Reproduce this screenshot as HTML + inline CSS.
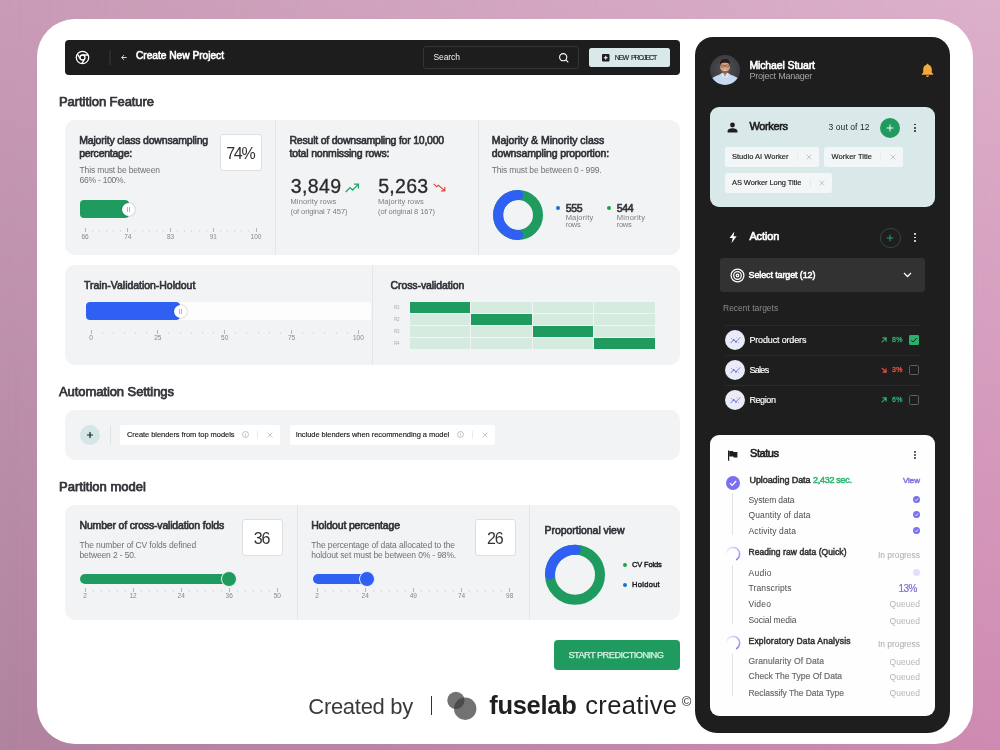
<!DOCTYPE html>
<html lang="en"><head><meta charset="utf-8"><title>Create New Project</title>
<style>
html,body{margin:0;padding:0;}
body{width:1000px;height:750px;overflow:hidden;position:relative;font-family:"Liberation Sans", sans-serif;background:#c796b4;}
.t{position:absolute;white-space:pre;}
svg{position:absolute;overflow:visible;}
</style></head><body>
<div aria-label="Background">
<div style="position:absolute;left:0;top:0;width:1000px;height:750px;background:linear-gradient(to bottom,#c99bb6,#b0839f)"></div>
<div style="position:absolute;left:0;top:0;width:1000px;height:750px;background:linear-gradient(to bottom,#dcafca,#cf8ab1);-webkit-mask-image:linear-gradient(to right,transparent,#000);mask-image:linear-gradient(to right,transparent,#000)"></div>
<div style="position:absolute;left:37px;top:19px;width:936px;height:725px;background:#fff;border-radius:38px;"></div>
</div>
<header aria-label="Top bar">
<div style="position:absolute;left:65px;top:40px;width:615px;height:34.5px;background:#1d1d1d;border-radius:4px;"></div>
<svg style="left:75px;top:49.5px" width="15" height="15" viewBox="0 0 15 15"><g fill="none" stroke="#fff" stroke-width="1.3"><circle cx="7.5" cy="7.5" r="6.2"/><circle cx="7.5" cy="7.5" r="2.5"/><path d="M7.5 5 H13.3 M5.3 8.8 L2.3 3.9 M9.7 8.8 L6.8 13.7"/></g></svg>
<div style="position:absolute;left:109px;top:50px;width:2px;height:15px;background:#2b2b2b;border-radius:0px;"></div>
<svg style="left:120.6px;top:54px" width="6" height="7" viewBox="0 0 6 7"><path d="M5.7 3.5 H0.9 M3 1.1 L0.7 3.5 L3 5.9" fill="none" stroke="#eee" stroke-width="0.9"/></svg>
<div style="position:absolute;left:423px;top:46px;width:154px;height:20.5px;border:1px solid #343434;border-radius:3px;box-sizing:content-box"></div>
<svg style="left:558px;top:51.5px" width="12" height="12" viewBox="0 0 12 12"><g fill="none" stroke="#fff" stroke-width="1.1"><circle cx="5.2" cy="5.2" r="3.6"/><path d="M7.9 7.9 L10.3 10.3"/></g></svg>
<div style="position:absolute;left:589px;top:47.7px;width:81px;height:19.5px;background:#d9e9ea;border-radius:2.5px;"></div>
<svg style="left:601.5px;top:54px" width="7.5" height="7.5" viewBox="0 0 7.5 7.5"><rect x="0" y="0" width="7.5" height="7.5" rx="1" fill="#1e1e1e"/><path d="M3.75 1.8 V5.7 M1.8 3.75 H5.7" stroke="#fff" stroke-width="1"/></svg>
<span class="t" style="left:136.00px;top:48.34px;font-size:10.2px;line-height:15px;color:#fff;letter-spacing:-0.019px;-webkit-text-stroke:0.59px #fff;">Create New Project</span>
<span class="t" style="left:433.50px;top:50.60px;font-size:8.5px;line-height:13px;color:#f0f0f0;letter-spacing:-0.087px;">Search</span>
<span class="t" style="left:614.80px;top:52.45px;font-size:7px;line-height:11px;color:#1e1e1e;letter-spacing:-1.035px;word-spacing:2px;-webkit-text-stroke:0.15px #1e1e1e;">NEW PROJECT</span>
</header>
<div aria-label="Section headings">
<span class="t" style="left:59.00px;top:92.14px;font-size:13px;line-height:19px;color:#33353a;letter-spacing:-0.069px;-webkit-text-stroke:0.75px #33353a;">Partition Feature</span>
<span class="t" style="left:59.00px;top:381.65px;font-size:13px;line-height:19px;color:#33353a;letter-spacing:-0.076px;-webkit-text-stroke:0.75px #33353a;">Automation Settings</span>
<span class="t" style="left:59.00px;top:477.15px;font-size:13px;line-height:19px;color:#33353a;letter-spacing:0.020px;-webkit-text-stroke:0.75px #33353a;">Partition model</span>
</div>
<section aria-label="Partition Feature">
<div style="position:absolute;left:65px;top:120px;width:615px;height:134.5px;background:#f1f3f5;border-radius:10px;"></div>
<div style="position:absolute;left:275px;top:120px;width:1px;height:134.5px;background:#e4e6e9;border-radius:0px;"></div>
<div style="position:absolute;left:477.5px;top:120px;width:1px;height:134.5px;background:#e4e6e9;border-radius:0px;"></div>
<div style="position:absolute;left:220.3px;top:134.2px;width:39.5px;height:34.5px;background:#fff;border:1px solid #dcdfe2;border-radius:3px"></div>
<div style="position:absolute;left:80px;top:200px;width:49px;height:17.5px;background:#1f9b5f;border-radius:4px;"></div>
<div style="position:absolute;left:121.5px;top:202.5px;width:13px;height:13px;background:#fff;border-radius:50%;box-shadow:0 0 2px rgba(0,0,0,.35)"></div>
<div style="position:absolute;left:126.6px;top:206.5px;width:0.8px;height:5px;background:#b5b5b5;border-radius:0px;"></div>
<div style="position:absolute;left:128.6px;top:206.5px;width:0.8px;height:5px;background:#b5b5b5;border-radius:0px;"></div>
<div style="position:absolute;left:84.5px;top:228px;width:1px;height:4px;background:#b2b5b9;border-radius:0px;"></div>
<div style="position:absolute;left:91.62px;top:229.5px;width:1px;height:2.5px;background:#dadce0;border-radius:0px;"></div>
<div style="position:absolute;left:98.75px;top:229.5px;width:1px;height:2.5px;background:#dadce0;border-radius:0px;"></div>
<div style="position:absolute;left:105.88px;top:229.5px;width:1px;height:2.5px;background:#dadce0;border-radius:0px;"></div>
<div style="position:absolute;left:113.0px;top:229.5px;width:1px;height:2.5px;background:#dadce0;border-radius:0px;"></div>
<div style="position:absolute;left:120.12px;top:229.5px;width:1px;height:2.5px;background:#dadce0;border-radius:0px;"></div>
<div style="position:absolute;left:127.25px;top:228px;width:1px;height:4px;background:#b2b5b9;border-radius:0px;"></div>
<div style="position:absolute;left:134.38px;top:229.5px;width:1px;height:2.5px;background:#dadce0;border-radius:0px;"></div>
<div style="position:absolute;left:141.5px;top:229.5px;width:1px;height:2.5px;background:#dadce0;border-radius:0px;"></div>
<div style="position:absolute;left:148.62px;top:229.5px;width:1px;height:2.5px;background:#dadce0;border-radius:0px;"></div>
<div style="position:absolute;left:155.75px;top:229.5px;width:1px;height:2.5px;background:#dadce0;border-radius:0px;"></div>
<div style="position:absolute;left:162.88px;top:229.5px;width:1px;height:2.5px;background:#dadce0;border-radius:0px;"></div>
<div style="position:absolute;left:170.0px;top:228px;width:1px;height:4px;background:#b2b5b9;border-radius:0px;"></div>
<div style="position:absolute;left:177.12px;top:229.5px;width:1px;height:2.5px;background:#dadce0;border-radius:0px;"></div>
<div style="position:absolute;left:184.25px;top:229.5px;width:1px;height:2.5px;background:#dadce0;border-radius:0px;"></div>
<div style="position:absolute;left:191.38px;top:229.5px;width:1px;height:2.5px;background:#dadce0;border-radius:0px;"></div>
<div style="position:absolute;left:198.5px;top:229.5px;width:1px;height:2.5px;background:#dadce0;border-radius:0px;"></div>
<div style="position:absolute;left:205.62px;top:229.5px;width:1px;height:2.5px;background:#dadce0;border-radius:0px;"></div>
<div style="position:absolute;left:212.75px;top:228px;width:1px;height:4px;background:#b2b5b9;border-radius:0px;"></div>
<div style="position:absolute;left:219.88px;top:229.5px;width:1px;height:2.5px;background:#dadce0;border-radius:0px;"></div>
<div style="position:absolute;left:227.0px;top:229.5px;width:1px;height:2.5px;background:#dadce0;border-radius:0px;"></div>
<div style="position:absolute;left:234.12px;top:229.5px;width:1px;height:2.5px;background:#dadce0;border-radius:0px;"></div>
<div style="position:absolute;left:241.25px;top:229.5px;width:1px;height:2.5px;background:#dadce0;border-radius:0px;"></div>
<div style="position:absolute;left:248.38px;top:229.5px;width:1px;height:2.5px;background:#dadce0;border-radius:0px;"></div>
<div style="position:absolute;left:255.5px;top:228px;width:1px;height:4px;background:#b2b5b9;border-radius:0px;"></div>
<svg style="left:344.5px;top:182.8px" width="15" height="10" viewBox="0 0 15 10"><path d="M0.8 9 L5 4.6 L7.6 7 L13 1.6 M9 1.2 H13.4 V5.6" fill="none" stroke="#27a567" stroke-width="1.3"/></svg>
<svg style="left:432.8px;top:183.3px" width="13" height="9" viewBox="0 0 13 9"><path d="M0.8 1 L3.6 3.8 L5.4 2.2 L11.4 7.4 M8 7.8 H11.8 V4" fill="none" stroke="#e5463d" stroke-width="1.2"/></svg>
<svg style="left:0;top:0" width="1000" height="750" viewBox="0 0 1000 750"><circle cx="518" cy="215" r="20" fill="none" stroke="#1f9b5f" stroke-width="10"/><path d="M518.17 235.00 A20 20 0 1 1 518.35 195.00" fill="none" stroke="#2f5ff3" stroke-width="10" stroke-linecap="round"/></svg>
<div style="position:absolute;left:556px;top:205.5px;width:4px;height:4px;background:#1a6fd6;border-radius:2px;"></div>
<div style="position:absolute;left:607.2px;top:205.5px;width:4px;height:4px;background:#1fa34a;border-radius:2px;"></div>
<span class="t" style="left:79.20px;top:131.93px;font-size:10.5px;line-height:16px;color:#2f3137;letter-spacing:-0.178px;-webkit-text-stroke:0.61px #2f3137;">Majority class downsampling</span>
<span class="t" style="left:79.20px;top:144.93px;font-size:10.5px;line-height:16px;color:#2f3137;letter-spacing:-0.247px;-webkit-text-stroke:0.61px #2f3137;">percentage:</span>
<span class="t" style="left:79.50px;top:164.00px;font-size:8.5px;line-height:13px;color:#6f7175;letter-spacing:-0.140px;">This must be between</span>
<span class="t" style="left:79.50px;top:174.00px;font-size:8.5px;line-height:13px;color:#6f7175;letter-spacing:-0.237px;">66% - 100%.</span>
<span class="t" style="left:226.18px;top:141.74px;font-size:16px;line-height:23px;color:#333;letter-spacing:-1.200px;">74%</span>
<span class="t" style="left:81.38px;top:231.67px;font-size:6.5px;line-height:10px;color:#85888d;">66</span>
<span class="t" style="left:124.13px;top:231.67px;font-size:6.5px;line-height:10px;color:#85888d;">74</span>
<span class="t" style="left:166.88px;top:231.67px;font-size:6.5px;line-height:10px;color:#85888d;">83</span>
<span class="t" style="left:209.63px;top:231.67px;font-size:6.5px;line-height:10px;color:#85888d;">91</span>
<span class="t" style="left:250.57px;top:231.67px;font-size:6.5px;line-height:10px;color:#85888d;">100</span>
<span class="t" style="left:289.50px;top:131.93px;font-size:10.5px;line-height:16px;color:#2f3137;letter-spacing:-0.218px;-webkit-text-stroke:0.61px #2f3137;">Result of downsampling for 10,000</span>
<span class="t" style="left:289.50px;top:144.93px;font-size:10.5px;line-height:16px;color:#2f3137;letter-spacing:-0.185px;-webkit-text-stroke:0.61px #2f3137;">total nonmissing rows:</span>
<span class="t" style="left:290.70px;top:173.22px;font-size:19.5px;line-height:27px;color:#2b2b2b;letter-spacing:0.422px;-webkit-text-stroke:0.3px #2b2b2b;">3,849</span>
<span class="t" style="left:378.20px;top:173.22px;font-size:19.5px;line-height:27px;color:#2b2b2b;letter-spacing:0.297px;-webkit-text-stroke:0.3px #2b2b2b;">5,263</span>
<span class="t" style="left:290.50px;top:196.24px;font-size:7.5px;line-height:12px;color:#7c7e82;letter-spacing:0.126px;">Minority rows</span>
<span class="t" style="left:290.50px;top:206.24px;font-size:7.5px;line-height:12px;color:#7c7e82;letter-spacing:-0.076px;">(of original 7 457)</span>
<span class="t" style="left:378.00px;top:196.24px;font-size:7.5px;line-height:12px;color:#7c7e82;letter-spacing:0.126px;">Majority rows</span>
<span class="t" style="left:378.00px;top:206.24px;font-size:7.5px;line-height:12px;color:#7c7e82;letter-spacing:-0.076px;">(of original 8 167)</span>
<span class="t" style="left:491.70px;top:131.93px;font-size:10.5px;line-height:16px;color:#2f3137;letter-spacing:-0.029px;-webkit-text-stroke:0.61px #2f3137;">Majority &amp; Minority class</span>
<span class="t" style="left:491.70px;top:144.93px;font-size:10.5px;line-height:16px;color:#2f3137;letter-spacing:-0.120px;-webkit-text-stroke:0.61px #2f3137;">downsampling proportion:</span>
<span class="t" style="left:491.70px;top:164.00px;font-size:8.5px;line-height:13px;color:#6f7175;letter-spacing:-0.155px;">This must be between 0 - 999.</span>
<span class="t" style="left:565.70px;top:200.43px;font-size:10.5px;line-height:16px;color:#33353a;letter-spacing:-0.366px;-webkit-text-stroke:0.61px #33353a;">555</span>
<span class="t" style="left:565.70px;top:211.54px;font-size:7.5px;line-height:12px;color:#7c7e82;letter-spacing:0.176px;">Majority</span>
<span class="t" style="left:565.70px;top:219.04px;font-size:7.5px;line-height:12px;color:#7c7e82;letter-spacing:-0.281px;">rows</span>
<span class="t" style="left:616.70px;top:200.43px;font-size:10.5px;line-height:16px;color:#33353a;letter-spacing:-0.266px;-webkit-text-stroke:0.61px #33353a;">544</span>
<span class="t" style="left:616.70px;top:211.54px;font-size:7.5px;line-height:12px;color:#7c7e82;letter-spacing:0.291px;">Minority</span>
<span class="t" style="left:616.70px;top:219.04px;font-size:7.5px;line-height:12px;color:#7c7e82;letter-spacing:-0.281px;">rows</span>
</section>
<section aria-label="Train-Validation-Holdout and Cross-validation">
<div style="position:absolute;left:65px;top:265px;width:615px;height:99.5px;background:#f1f3f5;border-radius:10px;"></div>
<div style="position:absolute;left:372px;top:265px;width:1px;height:99.5px;background:#e4e6e9;border-radius:0px;"></div>
<div style="position:absolute;left:85.7px;top:302px;width:285px;height:17.7px;background:#fdfdfd;border-radius:3px;"></div>
<div style="position:absolute;left:85.7px;top:302px;width:94px;height:17.7px;background:#2f5ff3;border-radius:4px;"></div>
<div style="position:absolute;left:173.5px;top:304.5px;width:13px;height:13px;background:#fff;border-radius:50%;box-shadow:0 0 2px rgba(0,0,0,.35)"></div>
<div style="position:absolute;left:178.6px;top:308.5px;width:0.8px;height:5px;background:#b5b5b5;border-radius:0px;"></div>
<div style="position:absolute;left:180.6px;top:308.5px;width:0.8px;height:5px;background:#b5b5b5;border-radius:0px;"></div>
<div style="position:absolute;left:90.5px;top:330px;width:1px;height:4px;background:#b2b5b9;border-radius:0px;"></div>
<div style="position:absolute;left:101.64px;top:331.5px;width:1px;height:2.5px;background:#dadce0;border-radius:0px;"></div>
<div style="position:absolute;left:112.78px;top:331.5px;width:1px;height:2.5px;background:#dadce0;border-radius:0px;"></div>
<div style="position:absolute;left:123.92px;top:331.5px;width:1px;height:2.5px;background:#dadce0;border-radius:0px;"></div>
<div style="position:absolute;left:135.07px;top:331.5px;width:1px;height:2.5px;background:#dadce0;border-radius:0px;"></div>
<div style="position:absolute;left:146.21px;top:331.5px;width:1px;height:2.5px;background:#dadce0;border-radius:0px;"></div>
<div style="position:absolute;left:157.35px;top:330px;width:1px;height:4px;background:#b2b5b9;border-radius:0px;"></div>
<div style="position:absolute;left:168.49px;top:331.5px;width:1px;height:2.5px;background:#dadce0;border-radius:0px;"></div>
<div style="position:absolute;left:179.63px;top:331.5px;width:1px;height:2.5px;background:#dadce0;border-radius:0px;"></div>
<div style="position:absolute;left:190.77px;top:331.5px;width:1px;height:2.5px;background:#dadce0;border-radius:0px;"></div>
<div style="position:absolute;left:201.92px;top:331.5px;width:1px;height:2.5px;background:#dadce0;border-radius:0px;"></div>
<div style="position:absolute;left:213.06px;top:331.5px;width:1px;height:2.5px;background:#dadce0;border-radius:0px;"></div>
<div style="position:absolute;left:224.2px;top:330px;width:1px;height:4px;background:#b2b5b9;border-radius:0px;"></div>
<div style="position:absolute;left:235.34px;top:331.5px;width:1px;height:2.5px;background:#dadce0;border-radius:0px;"></div>
<div style="position:absolute;left:246.48px;top:331.5px;width:1px;height:2.5px;background:#dadce0;border-radius:0px;"></div>
<div style="position:absolute;left:257.62px;top:331.5px;width:1px;height:2.5px;background:#dadce0;border-radius:0px;"></div>
<div style="position:absolute;left:268.77px;top:331.5px;width:1px;height:2.5px;background:#dadce0;border-radius:0px;"></div>
<div style="position:absolute;left:279.91px;top:331.5px;width:1px;height:2.5px;background:#dadce0;border-radius:0px;"></div>
<div style="position:absolute;left:291.05px;top:330px;width:1px;height:4px;background:#b2b5b9;border-radius:0px;"></div>
<div style="position:absolute;left:302.19px;top:331.5px;width:1px;height:2.5px;background:#dadce0;border-radius:0px;"></div>
<div style="position:absolute;left:313.33px;top:331.5px;width:1px;height:2.5px;background:#dadce0;border-radius:0px;"></div>
<div style="position:absolute;left:324.47px;top:331.5px;width:1px;height:2.5px;background:#dadce0;border-radius:0px;"></div>
<div style="position:absolute;left:335.62px;top:331.5px;width:1px;height:2.5px;background:#dadce0;border-radius:0px;"></div>
<div style="position:absolute;left:346.76px;top:331.5px;width:1px;height:2.5px;background:#dadce0;border-radius:0px;"></div>
<div style="position:absolute;left:357.9px;top:330px;width:1px;height:4px;background:#b2b5b9;border-radius:0px;"></div>
<div style="position:absolute;left:409.7px;top:302.0px;width:60.8px;height:11.3px;background:#1f9b5f;border-radius:0px;"></div>
<div style="position:absolute;left:471.2px;top:302.0px;width:60.8px;height:11.3px;background:#d6ebe0;border-radius:0px;"></div>
<div style="position:absolute;left:532.7px;top:302.0px;width:60.8px;height:11.3px;background:#d6ebe0;border-radius:0px;"></div>
<div style="position:absolute;left:594.2px;top:302.0px;width:60.8px;height:11.3px;background:#d6ebe0;border-radius:0px;"></div>
<div style="position:absolute;left:409.7px;top:314.05px;width:60.8px;height:11.3px;background:#d6ebe0;border-radius:0px;"></div>
<div style="position:absolute;left:471.2px;top:314.05px;width:60.8px;height:11.3px;background:#1f9b5f;border-radius:0px;"></div>
<div style="position:absolute;left:532.7px;top:314.05px;width:60.8px;height:11.3px;background:#d6ebe0;border-radius:0px;"></div>
<div style="position:absolute;left:594.2px;top:314.05px;width:60.8px;height:11.3px;background:#d6ebe0;border-radius:0px;"></div>
<div style="position:absolute;left:409.7px;top:326.1px;width:60.8px;height:11.3px;background:#d6ebe0;border-radius:0px;"></div>
<div style="position:absolute;left:471.2px;top:326.1px;width:60.8px;height:11.3px;background:#d6ebe0;border-radius:0px;"></div>
<div style="position:absolute;left:532.7px;top:326.1px;width:60.8px;height:11.3px;background:#1f9b5f;border-radius:0px;"></div>
<div style="position:absolute;left:594.2px;top:326.1px;width:60.8px;height:11.3px;background:#d6ebe0;border-radius:0px;"></div>
<div style="position:absolute;left:409.7px;top:338.15px;width:60.8px;height:11.3px;background:#d6ebe0;border-radius:0px;"></div>
<div style="position:absolute;left:471.2px;top:338.15px;width:60.8px;height:11.3px;background:#d6ebe0;border-radius:0px;"></div>
<div style="position:absolute;left:532.7px;top:338.15px;width:60.8px;height:11.3px;background:#d6ebe0;border-radius:0px;"></div>
<div style="position:absolute;left:594.2px;top:338.15px;width:60.8px;height:11.3px;background:#1f9b5f;border-radius:0px;"></div>
<span class="t" style="left:84.00px;top:276.93px;font-size:10.5px;line-height:16px;color:#2f3137;letter-spacing:-0.033px;-webkit-text-stroke:0.61px #2f3137;">Train-Validation-Holdout</span>
<span class="t" style="left:89.19px;top:333.17px;font-size:6.5px;line-height:10px;color:#85888d;">0</span>
<span class="t" style="left:154.23px;top:333.17px;font-size:6.5px;line-height:10px;color:#85888d;">25</span>
<span class="t" style="left:221.08px;top:333.17px;font-size:6.5px;line-height:10px;color:#85888d;">50</span>
<span class="t" style="left:287.93px;top:333.17px;font-size:6.5px;line-height:10px;color:#85888d;">75</span>
<span class="t" style="left:352.97px;top:333.17px;font-size:6.5px;line-height:10px;color:#85888d;">100</span>
<span class="t" style="left:390.60px;top:276.93px;font-size:10.5px;line-height:16px;color:#2f3137;letter-spacing:-0.099px;-webkit-text-stroke:0.61px #2f3137;">Cross-validation</span>
<span class="t" style="left:394.00px;top:303.64px;font-size:4.5px;line-height:8px;color:#a9acb0;letter-spacing:-0.266px;">R1</span>
<span class="t" style="left:394.00px;top:315.64px;font-size:4.5px;line-height:8px;color:#a9acb0;letter-spacing:-0.266px;">R2</span>
<span class="t" style="left:394.00px;top:327.64px;font-size:4.5px;line-height:8px;color:#a9acb0;letter-spacing:-0.266px;">R3</span>
<span class="t" style="left:394.00px;top:339.64px;font-size:4.5px;line-height:8px;color:#a9acb0;letter-spacing:-0.266px;">R4</span>
</section>
<section aria-label="Automation Settings">
<div style="position:absolute;left:65px;top:410px;width:615px;height:50px;background:#f1f3f5;border-radius:10px;"></div>
<div style="position:absolute;left:80px;top:425px;width:20px;height:20px;background:#d5e6e7;border-radius:10px;"></div>
<svg style="left:86px;top:431px" width="8" height="8" viewBox="0 0 8 8"><path d="M4 1 V7 M1 4 H7" stroke="#222" stroke-width="1.2"/></svg>
<div style="position:absolute;left:109.5px;top:426px;width:1px;height:18px;background:#e0e3e6;border-radius:0px;"></div>
<div style="position:absolute;left:120px;top:425px;width:160px;height:19.5px;background:#fff;border-radius:2.5px;"></div>
<svg style="left:241.8px;top:431.25px" width="7" height="7" viewBox="0 0 7 7"><circle cx="3.5" cy="3.5" r="3" fill="none" stroke="#a5a8ac" stroke-width="0.7"/><path d="M3.5 3.2 V5.2 M3.5 1.9 V2.5" stroke="#a5a8ac" stroke-width="0.7"/></svg>
<div style="position:absolute;left:257px;top:430.75px;width:1px;height:8px;background:#e8eaec;border-radius:0px;"></div>
<svg style="left:266.8px;top:431.75px" width="6" height="6" viewBox="0 0 6 6"><path d="M0.6 0.6 L5.4 5.4 M5.4 0.6 L0.6 5.4" stroke="#b9bcc0" stroke-width="0.8"/></svg>
<div style="position:absolute;left:290px;top:425px;width:204.5px;height:19.5px;background:#fff;border-radius:2.5px;"></div>
<svg style="left:457.0px;top:431.25px" width="7" height="7" viewBox="0 0 7 7"><circle cx="3.5" cy="3.5" r="3" fill="none" stroke="#a5a8ac" stroke-width="0.7"/><path d="M3.5 3.2 V5.2 M3.5 1.9 V2.5" stroke="#a5a8ac" stroke-width="0.7"/></svg>
<div style="position:absolute;left:471.5px;top:430.75px;width:1px;height:8px;background:#e8eaec;border-radius:0px;"></div>
<svg style="left:482px;top:431.75px" width="6" height="6" viewBox="0 0 6 6"><path d="M0.6 0.6 L5.4 5.4 M5.4 0.6 L0.6 5.4" stroke="#b9bcc0" stroke-width="0.8"/></svg>
<span class="t" style="left:127.00px;top:429.09px;font-size:7.5px;line-height:12px;color:#222;letter-spacing:-0.057px;-webkit-text-stroke:0.15px #222;">Create blenders from top models</span>
<span class="t" style="left:295.70px;top:429.09px;font-size:7.5px;line-height:12px;color:#222;letter-spacing:-0.049px;-webkit-text-stroke:0.15px #222;">Include blenders when recommending a model</span>
</section>
<section aria-label="Partition model">
<div style="position:absolute;left:65px;top:505px;width:615px;height:114.5px;background:#f1f3f5;border-radius:10px;"></div>
<div style="position:absolute;left:297px;top:505px;width:1px;height:114.5px;background:#e4e6e9;border-radius:0px;"></div>
<div style="position:absolute;left:529px;top:505px;width:1px;height:114.5px;background:#e4e6e9;border-radius:0px;"></div>
<div style="position:absolute;left:242px;top:519.2px;width:38.5px;height:34.5px;background:#fff;border:1px solid #dcdfe2;border-radius:3px"></div>
<div style="position:absolute;left:80px;top:574px;width:150px;height:9.5px;background:#1f9b5f;border-radius:5px;"></div>
<div style="position:absolute;left:221px;top:571px;width:14px;height:14px;background:#1f9b5f;border:1px solid #e9f3ee;border-radius:50%"></div>
<div style="position:absolute;left:84.5px;top:588px;width:1px;height:4px;background:#b2b5b9;border-radius:0px;"></div>
<div style="position:absolute;left:92.51px;top:589.5px;width:1px;height:2.5px;background:#dadce0;border-radius:0px;"></div>
<div style="position:absolute;left:100.53px;top:589.5px;width:1px;height:2.5px;background:#dadce0;border-radius:0px;"></div>
<div style="position:absolute;left:108.54px;top:589.5px;width:1px;height:2.5px;background:#dadce0;border-radius:0px;"></div>
<div style="position:absolute;left:116.55px;top:589.5px;width:1px;height:2.5px;background:#dadce0;border-radius:0px;"></div>
<div style="position:absolute;left:124.56px;top:589.5px;width:1px;height:2.5px;background:#dadce0;border-radius:0px;"></div>
<div style="position:absolute;left:132.57px;top:588px;width:1px;height:4px;background:#b2b5b9;border-radius:0px;"></div>
<div style="position:absolute;left:140.59px;top:589.5px;width:1px;height:2.5px;background:#dadce0;border-radius:0px;"></div>
<div style="position:absolute;left:148.6px;top:589.5px;width:1px;height:2.5px;background:#dadce0;border-radius:0px;"></div>
<div style="position:absolute;left:156.61px;top:589.5px;width:1px;height:2.5px;background:#dadce0;border-radius:0px;"></div>
<div style="position:absolute;left:164.62px;top:589.5px;width:1px;height:2.5px;background:#dadce0;border-radius:0px;"></div>
<div style="position:absolute;left:172.64px;top:589.5px;width:1px;height:2.5px;background:#dadce0;border-radius:0px;"></div>
<div style="position:absolute;left:180.65px;top:588px;width:1px;height:4px;background:#b2b5b9;border-radius:0px;"></div>
<div style="position:absolute;left:188.66px;top:589.5px;width:1px;height:2.5px;background:#dadce0;border-radius:0px;"></div>
<div style="position:absolute;left:196.68px;top:589.5px;width:1px;height:2.5px;background:#dadce0;border-radius:0px;"></div>
<div style="position:absolute;left:204.69px;top:589.5px;width:1px;height:2.5px;background:#dadce0;border-radius:0px;"></div>
<div style="position:absolute;left:212.7px;top:589.5px;width:1px;height:2.5px;background:#dadce0;border-radius:0px;"></div>
<div style="position:absolute;left:220.71px;top:589.5px;width:1px;height:2.5px;background:#dadce0;border-radius:0px;"></div>
<div style="position:absolute;left:228.73px;top:588px;width:1px;height:4px;background:#b2b5b9;border-radius:0px;"></div>
<div style="position:absolute;left:236.74px;top:589.5px;width:1px;height:2.5px;background:#dadce0;border-radius:0px;"></div>
<div style="position:absolute;left:244.75px;top:589.5px;width:1px;height:2.5px;background:#dadce0;border-radius:0px;"></div>
<div style="position:absolute;left:252.76px;top:589.5px;width:1px;height:2.5px;background:#dadce0;border-radius:0px;"></div>
<div style="position:absolute;left:260.78px;top:589.5px;width:1px;height:2.5px;background:#dadce0;border-radius:0px;"></div>
<div style="position:absolute;left:268.79px;top:589.5px;width:1px;height:2.5px;background:#dadce0;border-radius:0px;"></div>
<div style="position:absolute;left:276.8px;top:588px;width:1px;height:4px;background:#b2b5b9;border-radius:0px;"></div>
<div style="position:absolute;left:475px;top:519.2px;width:38.5px;height:34.5px;background:#fff;border:1px solid #dcdfe2;border-radius:3px"></div>
<div style="position:absolute;left:312.5px;top:574px;width:56px;height:9.5px;background:#2f5ff3;border-radius:5px;"></div>
<div style="position:absolute;left:359px;top:571px;width:14px;height:14px;background:#2f5ff3;border:1px solid #e9edf9;border-radius:50%"></div>
<div style="position:absolute;left:316.5px;top:588px;width:1px;height:4px;background:#b2b5b9;border-radius:0px;"></div>
<div style="position:absolute;left:324.53px;top:589.5px;width:1px;height:2.5px;background:#dadce0;border-radius:0px;"></div>
<div style="position:absolute;left:332.56px;top:589.5px;width:1px;height:2.5px;background:#dadce0;border-radius:0px;"></div>
<div style="position:absolute;left:340.59px;top:589.5px;width:1px;height:2.5px;background:#dadce0;border-radius:0px;"></div>
<div style="position:absolute;left:348.62px;top:589.5px;width:1px;height:2.5px;background:#dadce0;border-radius:0px;"></div>
<div style="position:absolute;left:356.65px;top:589.5px;width:1px;height:2.5px;background:#dadce0;border-radius:0px;"></div>
<div style="position:absolute;left:364.68px;top:588px;width:1px;height:4px;background:#b2b5b9;border-radius:0px;"></div>
<div style="position:absolute;left:372.7px;top:589.5px;width:1px;height:2.5px;background:#dadce0;border-radius:0px;"></div>
<div style="position:absolute;left:380.73px;top:589.5px;width:1px;height:2.5px;background:#dadce0;border-radius:0px;"></div>
<div style="position:absolute;left:388.76px;top:589.5px;width:1px;height:2.5px;background:#dadce0;border-radius:0px;"></div>
<div style="position:absolute;left:396.79px;top:589.5px;width:1px;height:2.5px;background:#dadce0;border-radius:0px;"></div>
<div style="position:absolute;left:404.82px;top:589.5px;width:1px;height:2.5px;background:#dadce0;border-radius:0px;"></div>
<div style="position:absolute;left:412.85px;top:588px;width:1px;height:4px;background:#b2b5b9;border-radius:0px;"></div>
<div style="position:absolute;left:420.88px;top:589.5px;width:1px;height:2.5px;background:#dadce0;border-radius:0px;"></div>
<div style="position:absolute;left:428.91px;top:589.5px;width:1px;height:2.5px;background:#dadce0;border-radius:0px;"></div>
<div style="position:absolute;left:436.94px;top:589.5px;width:1px;height:2.5px;background:#dadce0;border-radius:0px;"></div>
<div style="position:absolute;left:444.97px;top:589.5px;width:1px;height:2.5px;background:#dadce0;border-radius:0px;"></div>
<div style="position:absolute;left:453.0px;top:589.5px;width:1px;height:2.5px;background:#dadce0;border-radius:0px;"></div>
<div style="position:absolute;left:461.02px;top:588px;width:1px;height:4px;background:#b2b5b9;border-radius:0px;"></div>
<div style="position:absolute;left:469.05px;top:589.5px;width:1px;height:2.5px;background:#dadce0;border-radius:0px;"></div>
<div style="position:absolute;left:477.08px;top:589.5px;width:1px;height:2.5px;background:#dadce0;border-radius:0px;"></div>
<div style="position:absolute;left:485.11px;top:589.5px;width:1px;height:2.5px;background:#dadce0;border-radius:0px;"></div>
<div style="position:absolute;left:493.14px;top:589.5px;width:1px;height:2.5px;background:#dadce0;border-radius:0px;"></div>
<div style="position:absolute;left:501.17px;top:589.5px;width:1px;height:2.5px;background:#dadce0;border-radius:0px;"></div>
<div style="position:absolute;left:509.2px;top:588px;width:1px;height:4px;background:#b2b5b9;border-radius:0px;"></div>
<svg style="left:0;top:0" width="1000" height="750" viewBox="0 0 1000 750"><circle cx="575" cy="574.7" r="25" fill="none" stroke="#1f9b5f" stroke-width="10"/><path d="M550.00 574.70 A25 25 0 0 1 575.87 549.72" fill="none" stroke="#2f5ff3" stroke-width="10" stroke-linecap="round"/></svg>
<div style="position:absolute;left:623px;top:562.5px;width:4px;height:4px;background:#1fa34a;border-radius:2px;"></div>
<div style="position:absolute;left:623px;top:582.5px;width:4px;height:4px;background:#1a6fd6;border-radius:2px;"></div>
<span class="t" style="left:79.50px;top:516.93px;font-size:10.5px;line-height:16px;color:#2f3137;letter-spacing:-0.170px;-webkit-text-stroke:0.61px #2f3137;">Number of cross-validation folds</span>
<span class="t" style="left:79.50px;top:539.00px;font-size:8.5px;line-height:13px;color:#6f7175;letter-spacing:-0.114px;">The number of CV folds defined</span>
<span class="t" style="left:79.50px;top:549.00px;font-size:8.5px;line-height:13px;color:#6f7175;letter-spacing:-0.136px;">between 2 - 50.</span>
<span class="t" style="left:253.65px;top:526.74px;font-size:16px;line-height:23px;color:#333;letter-spacing:-1.097px;">36</span>
<span class="t" style="left:83.19px;top:590.87px;font-size:6.5px;line-height:10px;color:#85888d;">2</span>
<span class="t" style="left:129.46px;top:590.87px;font-size:6.5px;line-height:10px;color:#85888d;">12</span>
<span class="t" style="left:177.53px;top:590.87px;font-size:6.5px;line-height:10px;color:#85888d;">24</span>
<span class="t" style="left:225.61px;top:590.87px;font-size:6.5px;line-height:10px;color:#85888d;">36</span>
<span class="t" style="left:273.68px;top:590.87px;font-size:6.5px;line-height:10px;color:#85888d;">50</span>
<span class="t" style="left:311.20px;top:516.93px;font-size:10.5px;line-height:16px;color:#2f3137;letter-spacing:-0.168px;-webkit-text-stroke:0.61px #2f3137;">Holdout percentage</span>
<span class="t" style="left:311.20px;top:539.00px;font-size:8.5px;line-height:13px;color:#6f7175;letter-spacing:-0.108px;">The percentage of data allocated to the</span>
<span class="t" style="left:311.20px;top:549.00px;font-size:8.5px;line-height:13px;color:#6f7175;letter-spacing:-0.146px;">holdout set must be between 0% - 98%.</span>
<span class="t" style="left:486.95px;top:526.74px;font-size:16px;line-height:23px;color:#333;letter-spacing:-1.097px;">26</span>
<span class="t" style="left:315.19px;top:590.87px;font-size:6.5px;line-height:10px;color:#85888d;">2</span>
<span class="t" style="left:361.56px;top:590.87px;font-size:6.5px;line-height:10px;color:#85888d;">24</span>
<span class="t" style="left:409.73px;top:590.87px;font-size:6.5px;line-height:10px;color:#85888d;">49</span>
<span class="t" style="left:457.91px;top:590.87px;font-size:6.5px;line-height:10px;color:#85888d;">74</span>
<span class="t" style="left:506.08px;top:590.87px;font-size:6.5px;line-height:10px;color:#85888d;">98</span>
<span class="t" style="left:544.50px;top:521.63px;font-size:10.5px;line-height:16px;color:#2f3137;letter-spacing:-0.034px;-webkit-text-stroke:0.61px #2f3137;">Proportional view</span>
<span class="t" style="left:632.00px;top:558.74px;font-size:7.5px;line-height:12px;color:#222;letter-spacing:-0.163px;-webkit-text-stroke:0.43px #222;">CV Folds</span>
<span class="t" style="left:632.00px;top:578.74px;font-size:7.5px;line-height:12px;color:#222;letter-spacing:0.307px;-webkit-text-stroke:0.43px #222;">Holdout</span>
</section>
<div aria-label="Actions">
<div style="position:absolute;left:554px;top:640px;width:126px;height:29.7px;background:#1f9b5f;border-radius:4px;"></div>
<span class="t" style="left:568.45px;top:647.77px;font-size:9.3px;line-height:14px;color:#dcf1e5;letter-spacing:-0.578px;-webkit-text-stroke:0.25px #dcf1e5;">START PREDICTIONING</span>
</div>
<footer aria-label="Credits">
<div style="position:absolute;left:430.5px;top:696px;width:1.3px;height:19px;background:#333;border-radius:0px;"></div>
<svg style="left:446px;top:690px" width="32" height="32" viewBox="0 0 32 32"><circle cx="9.9" cy="10.3" r="8.6" fill="#3c3c3c" fill-opacity="0.72"/><circle cx="19.2" cy="18.7" r="11.2" fill="#3c3c3c" fill-opacity="0.72"/></svg>
<span class="t" style="left:308.30px;top:690.53px;font-size:22px;line-height:31px;color:#3a3a3a;letter-spacing:-0.292px;">Created by</span>
<span class="t" style="left:489.20px;top:688.11px;font-size:25.5px;line-height:35px;color:#1f1f1f;font-weight:700;letter-spacing:-0.280px;">fuselab</span>
<span class="t" style="left:585.20px;top:688.11px;font-size:25.5px;line-height:35px;color:#1f1f1f;letter-spacing:0.358px;">creative</span>
<span class="t" style="left:681.80px;top:692.04px;font-size:13px;line-height:19px;color:#1f1f1f;">©</span>
</footer>
<aside aria-label="User panel">
<div style="position:absolute;left:695px;top:37px;width:255px;height:696px;background:#1e1e1e;border-radius:18px 18px 22px 22px"></div>
<svg style="left:710px;top:55px" width="30" height="30" viewBox="0 0 30 30"><defs><clipPath id="av"><circle cx="15" cy="15" r="15"/></clipPath><radialGradient id="avg" cx="0.5" cy="0.45" r="0.6"><stop offset="0" stop-color="#505257"/><stop offset="1" stop-color="#36373b"/></radialGradient></defs><g clip-path="url(#av)"><rect width="30" height="30" fill="url(#avg)"/><path d="M1 24 C4 21 9 20 11.4 18.4 L15 21.6 L18.6 18.4 C21 20 26 21 29 24 V31 H1 Z" fill="#c7d9ee"/><path d="M12.4 15.5 H17.6 V18.8 L15 22 L12.4 18.8 Z" fill="#c48d6d"/><path d="M11.2 18.3 L12.5 17.6 L15 21.8 L13 23 Z M18.8 18.3 L17.5 17.6 L15 21.8 L17 23 Z" fill="#dfeaf7"/><ellipse cx="15" cy="12" rx="4.9" ry="5.9" fill="#dba584"/><path d="M10.2 13 C10.6 17.6 13 18.2 15 18.2 C17 18.2 19.4 17.6 19.8 13 C19 15.6 17.4 16 15 16 C12.6 16 11 15.6 10.2 13 Z" fill="#6e4a38" fill-opacity="0.75"/><path d="M13.3 15.3 C14 16.1 16 16.1 16.7 15.3 Z" fill="#f7efe9"/><path d="M10.1 11 C9.4 5.6 12 4 15 4 C18.4 4 20.6 5.6 19.9 11 C19.5 8.8 18.6 7.8 15 7.8 C11.4 7.8 10.5 8.8 10.1 11 Z" fill="#2a1c16"/><g fill="none" stroke="#3a2922" stroke-width="0.45"><rect x="11" y="10" width="3.2" height="2" rx="0.6"/><rect x="15.8" y="10" width="3.2" height="2" rx="0.6"/><path d="M14.2 10.8 H15.8"/></g></g></svg>
<svg style="left:921px;top:62.5px" width="13" height="15" viewBox="0 0 13 15"><path d="M6.5 0.8 C7.1 0.8 7.5 1.2 7.5 1.8 C9.8 2.4 10.8 4.4 10.8 6.6 V9.4 L12.2 11 V11.8 H0.8 V11 L2.2 9.4 V6.6 C2.2 4.4 3.2 2.4 5.5 1.8 C5.5 1.2 5.9 0.8 6.5 0.8 Z" fill="#f6a93b"/><path d="M5 12.6 H8 C8 13.5 7.4 14.1 6.5 14.1 C5.6 14.1 5 13.5 5 12.6 Z" fill="#f6a93b"/></svg>
<span class="t" style="left:749.40px;top:57.43px;font-size:10.5px;line-height:16px;color:#fff;letter-spacing:-0.117px;-webkit-text-stroke:0.61px #fff;">Michael Stuart</span>
<span class="t" style="left:749.40px;top:68.58px;font-size:9px;line-height:14px;color:#a5a5a5;letter-spacing:-0.218px;">Project Manager</span>
</aside>
<section aria-label="Workers">
<div style="position:absolute;left:710px;top:107px;width:225px;height:100.4px;background:#d9e9ea;border-radius:9px;"></div>
<svg style="left:727px;top:122px" width="11" height="11" viewBox="0 0 11 11"><circle cx="5.5" cy="3" r="2.4" fill="#1e1e1e"/><path d="M0.6 10.5 V9 C0.6 7 3.6 6.2 5.5 6.2 C7.4 6.2 10.4 7 10.4 9 V10.5 Z" fill="#1e1e1e"/></svg>
<div style="position:absolute;left:880px;top:117.5px;width:20px;height:20px;background:#1f9b5f;border-radius:10px;"></div>
<svg style="left:886px;top:123.5px" width="8" height="8" viewBox="0 0 8 8"><path d="M4 0.6 V7.4 M0.6 4 H7.4" stroke="#fff" stroke-width="0.95"/></svg>
<div style="position:absolute;left:914.1px;top:123.6px;width:1.8px;height:1.8px;background:#1e1e1e;border-radius:1px;"></div>
<div style="position:absolute;left:914.1px;top:126.8px;width:1.8px;height:1.8px;background:#1e1e1e;border-radius:1px;"></div>
<div style="position:absolute;left:914.1px;top:130.0px;width:1.8px;height:1.8px;background:#1e1e1e;border-radius:1px;"></div>
<div style="position:absolute;left:725px;top:147px;width:94.3px;height:20px;background:#f3f6f7;border-radius:2.5px;"></div>
<div style="position:absolute;left:796.5px;top:153.0px;width:1px;height:8px;background:#e8eaec;border-radius:0px;"></div>
<svg style="left:806px;top:154.0px" width="6" height="6" viewBox="0 0 6 6"><path d="M0.6 0.6 L5.4 5.4 M5.4 0.6 L0.6 5.4" stroke="#b9bcc0" stroke-width="0.8"/></svg>
<div style="position:absolute;left:824px;top:147px;width:79px;height:20px;background:#f3f6f7;border-radius:2.5px;"></div>
<div style="position:absolute;left:880px;top:153.0px;width:1px;height:8px;background:#e8eaec;border-radius:0px;"></div>
<svg style="left:890px;top:154.0px" width="6" height="6" viewBox="0 0 6 6"><path d="M0.6 0.6 L5.4 5.4 M5.4 0.6 L0.6 5.4" stroke="#b9bcc0" stroke-width="0.8"/></svg>
<div style="position:absolute;left:725px;top:172.6px;width:107px;height:20px;background:#f3f6f7;border-radius:2.5px;"></div>
<div style="position:absolute;left:809.5px;top:178.6px;width:1px;height:8px;background:#e8eaec;border-radius:0px;"></div>
<svg style="left:819px;top:179.6px" width="6" height="6" viewBox="0 0 6 6"><path d="M0.6 0.6 L5.4 5.4 M5.4 0.6 L0.6 5.4" stroke="#b9bcc0" stroke-width="0.8"/></svg>
<span class="t" style="left:749.40px;top:117.51px;font-size:11px;line-height:16px;color:#1e1e1e;letter-spacing:-0.358px;-webkit-text-stroke:0.64px #1e1e1e;">Workers</span>
<span class="t" style="left:828.60px;top:121.00px;font-size:8.5px;line-height:13px;color:#1e1e1e;letter-spacing:0.063px;">3 out of 12</span>
<span class="t" style="left:732.00px;top:151.34px;font-size:7.5px;line-height:12px;color:#222;letter-spacing:0.017px;-webkit-text-stroke:0.15px #222;">Studio AI Worker</span>
<span class="t" style="left:831.60px;top:151.34px;font-size:7.5px;line-height:12px;color:#222;letter-spacing:0.048px;-webkit-text-stroke:0.15px #222;">Worker Title</span>
<span class="t" style="left:732.00px;top:176.94px;font-size:7.5px;line-height:12px;color:#222;letter-spacing:-0.075px;-webkit-text-stroke:0.15px #222;">AS Worker Long Title</span>
</section>
<section aria-label="Action">
<svg style="left:728.5px;top:231px" width="8" height="13" viewBox="0 0 8 13"><path d="M5.4 0.4 L0.6 7 H3.7 L2.5 12.2 L7.6 5.2 H4.5 Z" fill="#fff"/></svg>
<div style="position:absolute;left:880px;top:227.5px;width:18.6px;height:18.6px;border:0.7px solid #36463d;border-radius:50%"></div>
<svg style="left:886px;top:233.5px" width="8" height="8" viewBox="0 0 8 8"><path d="M4 0.7 V7.3 M0.7 4 H7.3" stroke="#2fb083" stroke-width="0.85"/></svg>
<div style="position:absolute;left:914.1px;top:233.4px;width:1.8px;height:1.8px;background:#fff;border-radius:1px;"></div>
<div style="position:absolute;left:914.1px;top:236.6px;width:1.8px;height:1.8px;background:#fff;border-radius:1px;"></div>
<div style="position:absolute;left:914.1px;top:239.79999999999998px;width:1.8px;height:1.8px;background:#fff;border-radius:1px;"></div>
<div style="position:absolute;left:720px;top:257.7px;width:205px;height:34.7px;background:#323232;border-radius:3px;"></div>
<svg style="left:730px;top:267.5px" width="15" height="15" viewBox="0 0 15 15"><g fill="none" stroke="#fff" stroke-width="1.25"><circle cx="7.5" cy="7.5" r="6.4"/><circle cx="7.5" cy="7.5" r="3.8"/><circle cx="7.5" cy="7.5" r="1.3"/></g></svg>
<svg style="left:902.5px;top:272px" width="9" height="6" viewBox="0 0 9 6"><path d="M1 1 L4.5 4.5 L8 1" fill="none" stroke="#fff" stroke-width="1.3"/></svg>
<div style="position:absolute;left:725px;top:325px;width:195px;height:1px;background:#2b2b2b;border-radius:0px;"></div>
<div style="position:absolute;left:725px;top:330px;width:20px;height:20px;background:#e9ebf7;border-radius:10px;"></div>
<svg style="left:729.5px;top:335.5px" width="11" height="9" viewBox="0 0 11 9"><path d="M0.6 7.2 L3.6 3.8 L6 5.8 L10.2 1.4" fill="none" stroke="#6a62d8" stroke-width="0.85"/><circle cx="3.6" cy="3.8" r="0.9" fill="#6a62d8"/><circle cx="6" cy="5.8" r="0.9" fill="#6a62d8"/><circle cx="1.6" cy="2.6" r="0.5" fill="#8b84e6"/><circle cx="8.4" cy="6.6" r="0.5" fill="#8b84e6"/><circle cx="6.4" cy="1.6" r="0.4" fill="#8b84e6"/></svg>
<svg style="left:881.3px;top:336.8px" width="6" height="6" viewBox="0 0 6 6"><path d="M0.7 5.4 L5 1.1 M1.4 0.9 H5.2 V4.7" fill="none" stroke="#2fae6e" stroke-width="1.1"/></svg>
<div style="position:absolute;left:909px;top:335px;width:10px;height:10px;background:#2bb06c;border-radius:1.2px;"></div>
<svg style="left:909px;top:335px" width="10" height="10" viewBox="0 0 10 10"><path d="M2.2 5.3 L4.1 7.1 L7.8 3" fill="none" stroke="#12301f" stroke-width="1"/></svg>
<div style="position:absolute;left:725px;top:355px;width:195px;height:1px;background:#2b2b2b;border-radius:0px;"></div>
<div style="position:absolute;left:725px;top:360px;width:20px;height:20px;background:#e9ebf7;border-radius:10px;"></div>
<svg style="left:729.5px;top:365.5px" width="11" height="9" viewBox="0 0 11 9"><path d="M0.6 7.2 L3.6 3.8 L6 5.8 L10.2 1.4" fill="none" stroke="#6a62d8" stroke-width="0.85"/><circle cx="3.6" cy="3.8" r="0.9" fill="#6a62d8"/><circle cx="6" cy="5.8" r="0.9" fill="#6a62d8"/><circle cx="1.6" cy="2.6" r="0.5" fill="#8b84e6"/><circle cx="8.4" cy="6.6" r="0.5" fill="#8b84e6"/><circle cx="6.4" cy="1.6" r="0.4" fill="#8b84e6"/></svg>
<svg style="left:881.3px;top:367px" width="6" height="6" viewBox="0 0 6 6"><path d="M0.8 0.8 L5 5 M1.6 5.1 H5.1 V1.6" fill="none" stroke="#e8544c" stroke-width="1.1"/></svg>
<div style="position:absolute;left:909px;top:365px;width:8.4px;height:8.4px;border:0.8px solid #5e5e5e;border-radius:1.5px"></div>
<div style="position:absolute;left:725px;top:385px;width:195px;height:1px;background:#2b2b2b;border-radius:0px;"></div>
<div style="position:absolute;left:725px;top:390px;width:20px;height:20px;background:#e9ebf7;border-radius:10px;"></div>
<svg style="left:729.5px;top:395.5px" width="11" height="9" viewBox="0 0 11 9"><path d="M0.6 7.2 L3.6 3.8 L6 5.8 L10.2 1.4" fill="none" stroke="#6a62d8" stroke-width="0.85"/><circle cx="3.6" cy="3.8" r="0.9" fill="#6a62d8"/><circle cx="6" cy="5.8" r="0.9" fill="#6a62d8"/><circle cx="1.6" cy="2.6" r="0.5" fill="#8b84e6"/><circle cx="8.4" cy="6.6" r="0.5" fill="#8b84e6"/><circle cx="6.4" cy="1.6" r="0.4" fill="#8b84e6"/></svg>
<svg style="left:881.3px;top:396.8px" width="6" height="6" viewBox="0 0 6 6"><path d="M0.7 5.4 L5 1.1 M1.4 0.9 H5.2 V4.7" fill="none" stroke="#2fae6e" stroke-width="1.1"/></svg>
<div style="position:absolute;left:909px;top:395px;width:8.4px;height:8.4px;border:0.8px solid #5e5e5e;border-radius:1.5px"></div>
<span class="t" style="left:749.40px;top:227.82px;font-size:11px;line-height:16px;color:#fff;letter-spacing:-0.116px;-webkit-text-stroke:0.64px #fff;">Action</span>
<span class="t" style="left:748.50px;top:268.49px;font-size:9px;line-height:14px;color:#fff;letter-spacing:-0.120px;-webkit-text-stroke:0.52px #fff;">Select target (12)</span>
<span class="t" style="left:723.00px;top:301.70px;font-size:8.5px;line-height:13px;color:#8a8a8a;letter-spacing:-0.006px;">Recent targets</span>
<span class="t" style="left:749.40px;top:333.49px;font-size:9px;line-height:14px;color:#fff;letter-spacing:-0.156px;-webkit-text-stroke:0.15px #fff;">Product orders</span>
<span class="t" style="left:892.00px;top:334.25px;font-size:7px;line-height:11px;color:#2fae6e;letter-spacing:0.275px;-webkit-text-stroke:0.3px #2fae6e;">8%</span>
<span class="t" style="left:749.40px;top:363.49px;font-size:9px;line-height:14px;color:#fff;letter-spacing:-0.679px;-webkit-text-stroke:0.15px #fff;">Sales</span>
<span class="t" style="left:892.00px;top:364.25px;font-size:7px;line-height:11px;color:#e8544c;letter-spacing:0.275px;-webkit-text-stroke:0.3px #e8544c;">3%</span>
<span class="t" style="left:749.40px;top:393.49px;font-size:9px;line-height:14px;color:#fff;letter-spacing:-0.386px;-webkit-text-stroke:0.15px #fff;">Region</span>
<span class="t" style="left:892.00px;top:394.25px;font-size:7px;line-height:11px;color:#2fae6e;letter-spacing:0.275px;-webkit-text-stroke:0.3px #2fae6e;">6%</span>
</section>
<section aria-label="Status">
<div style="position:absolute;left:710px;top:435px;width:225px;height:281px;background:#fefefe;border-radius:9px;"></div>
<svg style="left:728px;top:449.5px" width="10" height="11" viewBox="0 0 10 11"><path d="M0.6 0.5 V10.8" stroke="#1e1e1e" stroke-width="1.2"/><path d="M1.2 1 H5 L5.4 2 H9.4 V7.6 H5.8 L5.4 6.6 H1.2 Z" fill="#1e1e1e"/></svg>
<div style="position:absolute;left:914.1px;top:450.90000000000003px;width:1.8px;height:1.8px;background:#333;border-radius:1px;"></div>
<div style="position:absolute;left:914.1px;top:454.1px;width:1.8px;height:1.8px;background:#333;border-radius:1px;"></div>
<div style="position:absolute;left:914.1px;top:457.3px;width:1.8px;height:1.8px;background:#333;border-radius:1px;"></div>
<div style="position:absolute;left:725.5px;top:475.5px;width:14px;height:14px;background:#7a6ff0;border-radius:7px;"></div>
<svg style="left:725.5px;top:475.5px" width="14" height="14" viewBox="0 0 14 14"><path d="M4 7.2 L6.2 9.4 L10.2 5" fill="none" stroke="#fff" stroke-width="1.3"/></svg>
<div style="position:absolute;left:732px;top:492.5px;width:1px;height:42px;background:#e2e2e6;border-radius:0px;"></div>
<div style="position:absolute;left:912.5px;top:495.8px;width:7px;height:7px;background:#7a6ff0;border-radius:3.5px;"></div>
<svg style="left:912.5px;top:495.8px" width="7" height="7" viewBox="0 0 7 7"><path d="M2 3.6 L3.1 4.7 L5.1 2.4" fill="none" stroke="#fff" stroke-width="0.8"/></svg>
<div style="position:absolute;left:912.5px;top:510.79999999999995px;width:7px;height:7px;background:#7a6ff0;border-radius:3.5px;"></div>
<svg style="left:912.5px;top:510.79999999999995px" width="7" height="7" viewBox="0 0 7 7"><path d="M2 3.6 L3.1 4.7 L5.1 2.4" fill="none" stroke="#fff" stroke-width="0.8"/></svg>
<div style="position:absolute;left:912.5px;top:526.8px;width:7px;height:7px;background:#7a6ff0;border-radius:3.5px;"></div>
<svg style="left:912.5px;top:526.8px" width="7" height="7" viewBox="0 0 7 7"><path d="M2 3.6 L3.1 4.7 L5.1 2.4" fill="none" stroke="#fff" stroke-width="0.8"/></svg>
<svg style="left:725px;top:546px" width="16" height="16" viewBox="0 0 16 16"><g fill="none" stroke="#8478ee" stroke-width="1.5"><path d="M1.62 9.71 A6.6 6.6 0 0 1 1.41 8.43" stroke-opacity="0.01"/><path d="M1.43 8.60 A6.6 6.6 0 0 1 1.44 7.30" stroke-opacity="0.04"/><path d="M1.42 7.47 A6.6 6.6 0 0 1 1.65 6.19" stroke-opacity="0.06"/><path d="M1.61 6.36 A6.6 6.6 0 0 1 2.05 5.13" stroke-opacity="0.09"/><path d="M1.98 5.29 A6.6 6.6 0 0 1 2.63 4.16" stroke-opacity="0.12"/><path d="M2.53 4.31 A6.6 6.6 0 0 1 3.36 3.30" stroke-opacity="0.15"/><path d="M3.24 3.43 A6.6 6.6 0 0 1 4.23 2.58" stroke-opacity="0.18"/><path d="M4.09 2.68 A6.6 6.6 0 0 1 5.21 2.02" stroke-opacity="0.22"/><path d="M5.05 2.10 A6.6 6.6 0 0 1 6.27 1.63" stroke-opacity="0.25"/><path d="M6.10 1.68 A6.6 6.6 0 0 1 7.38 1.43" stroke-opacity="0.29"/><path d="M7.20 1.45 A6.6 6.6 0 0 1 8.50 1.42" stroke-opacity="0.33"/><path d="M8.33 1.41 A6.6 6.6 0 0 1 9.62 1.60" stroke-opacity="0.37"/><path d="M9.45 1.56 A6.6 6.6 0 0 1 10.68 1.97" stroke-opacity="0.41"/><path d="M10.53 1.90 A6.6 6.6 0 0 1 11.67 2.52" stroke-opacity="0.45"/><path d="M11.53 2.42 A6.6 6.6 0 0 1 12.55 3.22" stroke-opacity="0.49"/><path d="M12.43 3.10 A6.6 6.6 0 0 1 13.30 4.07" stroke-opacity="0.53"/><path d="M13.20 3.93 A6.6 6.6 0 0 1 13.89 5.03" stroke-opacity="0.58"/><path d="M13.81 4.87 A6.6 6.6 0 0 1 14.31 6.07" stroke-opacity="0.62"/><path d="M14.26 5.91 A6.6 6.6 0 0 1 14.55 7.18" stroke-opacity="0.67"/><path d="M14.52 7.01 A6.6 6.6 0 0 1 14.59 8.31" stroke-opacity="0.71"/><path d="M14.60 8.13 A6.6 6.6 0 0 1 14.44 9.42" stroke-opacity="0.76"/><path d="M14.48 9.25 A6.6 6.6 0 0 1 14.11 10.50" stroke-opacity="0.80"/><path d="M14.17 10.34 A6.6 6.6 0 0 1 13.59 11.50" stroke-opacity="0.85"/><path d="M13.68 11.36 A6.6 6.6 0 0 1 12.91 12.41" stroke-opacity="0.90"/><path d="M13.03 12.28 A6.6 6.6 0 0 1 12.09 13.18" stroke-opacity="0.95"/><path d="M12.23 13.07 A6.6 6.6 0 0 1 11.15 13.80" stroke-opacity="1.00"/></g></svg>
<div style="position:absolute;left:732px;top:565px;width:1px;height:59px;background:#e2e2e6;border-radius:0px;"></div>
<div style="position:absolute;left:912.5px;top:568.5px;width:7px;height:7px;background:#e2defb;border-radius:3.5px;"></div>
<svg style="left:725px;top:635px" width="16" height="16" viewBox="0 0 16 16"><g fill="none" stroke="#8478ee" stroke-width="1.5"><path d="M1.62 9.71 A6.6 6.6 0 0 1 1.41 8.43" stroke-opacity="0.01"/><path d="M1.43 8.60 A6.6 6.6 0 0 1 1.44 7.30" stroke-opacity="0.04"/><path d="M1.42 7.47 A6.6 6.6 0 0 1 1.65 6.19" stroke-opacity="0.06"/><path d="M1.61 6.36 A6.6 6.6 0 0 1 2.05 5.13" stroke-opacity="0.09"/><path d="M1.98 5.29 A6.6 6.6 0 0 1 2.63 4.16" stroke-opacity="0.12"/><path d="M2.53 4.31 A6.6 6.6 0 0 1 3.36 3.30" stroke-opacity="0.15"/><path d="M3.24 3.43 A6.6 6.6 0 0 1 4.23 2.58" stroke-opacity="0.18"/><path d="M4.09 2.68 A6.6 6.6 0 0 1 5.21 2.02" stroke-opacity="0.22"/><path d="M5.05 2.10 A6.6 6.6 0 0 1 6.27 1.63" stroke-opacity="0.25"/><path d="M6.10 1.68 A6.6 6.6 0 0 1 7.38 1.43" stroke-opacity="0.29"/><path d="M7.20 1.45 A6.6 6.6 0 0 1 8.50 1.42" stroke-opacity="0.33"/><path d="M8.33 1.41 A6.6 6.6 0 0 1 9.62 1.60" stroke-opacity="0.37"/><path d="M9.45 1.56 A6.6 6.6 0 0 1 10.68 1.97" stroke-opacity="0.41"/><path d="M10.53 1.90 A6.6 6.6 0 0 1 11.67 2.52" stroke-opacity="0.45"/><path d="M11.53 2.42 A6.6 6.6 0 0 1 12.55 3.22" stroke-opacity="0.49"/><path d="M12.43 3.10 A6.6 6.6 0 0 1 13.30 4.07" stroke-opacity="0.53"/><path d="M13.20 3.93 A6.6 6.6 0 0 1 13.89 5.03" stroke-opacity="0.58"/><path d="M13.81 4.87 A6.6 6.6 0 0 1 14.31 6.07" stroke-opacity="0.62"/><path d="M14.26 5.91 A6.6 6.6 0 0 1 14.55 7.18" stroke-opacity="0.67"/><path d="M14.52 7.01 A6.6 6.6 0 0 1 14.59 8.31" stroke-opacity="0.71"/><path d="M14.60 8.13 A6.6 6.6 0 0 1 14.44 9.42" stroke-opacity="0.76"/><path d="M14.48 9.25 A6.6 6.6 0 0 1 14.11 10.50" stroke-opacity="0.80"/><path d="M14.17 10.34 A6.6 6.6 0 0 1 13.59 11.50" stroke-opacity="0.85"/><path d="M13.68 11.36 A6.6 6.6 0 0 1 12.91 12.41" stroke-opacity="0.90"/><path d="M13.03 12.28 A6.6 6.6 0 0 1 12.09 13.18" stroke-opacity="0.95"/><path d="M12.23 13.07 A6.6 6.6 0 0 1 11.15 13.80" stroke-opacity="1.00"/></g></svg>
<div style="position:absolute;left:732px;top:654px;width:1px;height:42px;background:#e2e2e6;border-radius:0px;"></div>
<span class="t" style="left:750.00px;top:444.72px;font-size:11px;line-height:16px;color:#222;letter-spacing:-0.438px;-webkit-text-stroke:0.64px #222;">Status</span>
<span class="t" style="left:749.50px;top:473.49px;font-size:9px;line-height:14px;color:#333;letter-spacing:-0.081px;-webkit-text-stroke:0.52px #333;">Uploading Data</span>
<span class="t" style="left:813.00px;top:473.49px;font-size:9px;line-height:14px;color:#2fb673;letter-spacing:-0.281px;-webkit-text-stroke:0.52px #2fb673;">2,432 sec.</span>
<span class="t" style="left:903.00px;top:474.52px;font-size:8px;line-height:12px;color:#7a72e0;letter-spacing:-0.068px;-webkit-text-stroke:0.46px #7a72e0;">View</span>
<span class="t" style="left:748.50px;top:494.00px;font-size:8.5px;line-height:13px;color:#4a4a4a;letter-spacing:-0.125px;">System data</span>
<span class="t" style="left:748.50px;top:509.00px;font-size:8.5px;line-height:13px;color:#4a4a4a;letter-spacing:0.132px;">Quantity of data</span>
<span class="t" style="left:748.50px;top:525.00px;font-size:8.5px;line-height:13px;color:#4a4a4a;letter-spacing:0.139px;">Activity data</span>
<span class="t" style="left:748.50px;top:546.10px;font-size:8.5px;line-height:13px;color:#333;letter-spacing:0.070px;-webkit-text-stroke:0.49px #333;">Reading raw data (Quick)</span>
<span class="t" style="left:878.00px;top:548.70px;font-size:8.5px;line-height:13px;color:#a9abae;letter-spacing:-0.053px;">In progress</span>
<span class="t" style="left:748.50px;top:566.50px;font-size:8.5px;line-height:13px;color:#4a4a4a;letter-spacing:0.312px;">Audio</span>
<span class="t" style="left:748.50px;top:581.50px;font-size:8.5px;line-height:13px;color:#4a4a4a;letter-spacing:0.127px;">Transcripts</span>
<span class="t" style="left:898.60px;top:580.95px;font-size:10px;line-height:15px;color:#7a6fd8;letter-spacing:-0.558px;-webkit-text-stroke:0.2px #7a6fd8;">13%</span>
<span class="t" style="left:748.50px;top:597.70px;font-size:8.5px;line-height:13px;color:#4a4a4a;letter-spacing:0.227px;">Video</span>
<span class="t" style="left:889.50px;top:598.20px;font-size:8.5px;line-height:13px;color:#b3b5b8;letter-spacing:0.050px;">Queued</span>
<span class="t" style="left:748.50px;top:614.00px;font-size:8.5px;line-height:13px;color:#4a4a4a;letter-spacing:-0.061px;">Social media</span>
<span class="t" style="left:889.50px;top:614.50px;font-size:8.5px;line-height:13px;color:#b3b5b8;letter-spacing:0.050px;">Queued</span>
<span class="t" style="left:748.50px;top:635.20px;font-size:8.5px;line-height:13px;color:#333;letter-spacing:0.214px;-webkit-text-stroke:0.49px #333;">Exploratory Data Analysis</span>
<span class="t" style="left:878.00px;top:637.70px;font-size:8.5px;line-height:13px;color:#a9abae;letter-spacing:-0.053px;">In progress</span>
<span class="t" style="left:748.50px;top:655.20px;font-size:8.5px;line-height:13px;color:#6b6d70;letter-spacing:0.126px;-webkit-text-stroke:0.2px #6b6d70;">Granularity Of Data</span>
<span class="t" style="left:889.50px;top:655.70px;font-size:8.5px;line-height:13px;color:#b3b5b8;letter-spacing:0.050px;">Queued</span>
<span class="t" style="left:748.50px;top:670.20px;font-size:8.5px;line-height:13px;color:#6b6d70;letter-spacing:0.013px;-webkit-text-stroke:0.2px #6b6d70;">Check The Type Of Data</span>
<span class="t" style="left:889.50px;top:670.70px;font-size:8.5px;line-height:13px;color:#b3b5b8;letter-spacing:0.050px;">Queued</span>
<span class="t" style="left:748.50px;top:686.50px;font-size:8.5px;line-height:13px;color:#6b6d70;letter-spacing:-0.046px;-webkit-text-stroke:0.2px #6b6d70;">Reclassify The Data Type</span>
<span class="t" style="left:889.50px;top:687.00px;font-size:8.5px;line-height:13px;color:#b3b5b8;letter-spacing:0.050px;">Queued</span>
</section>
</body></html>
